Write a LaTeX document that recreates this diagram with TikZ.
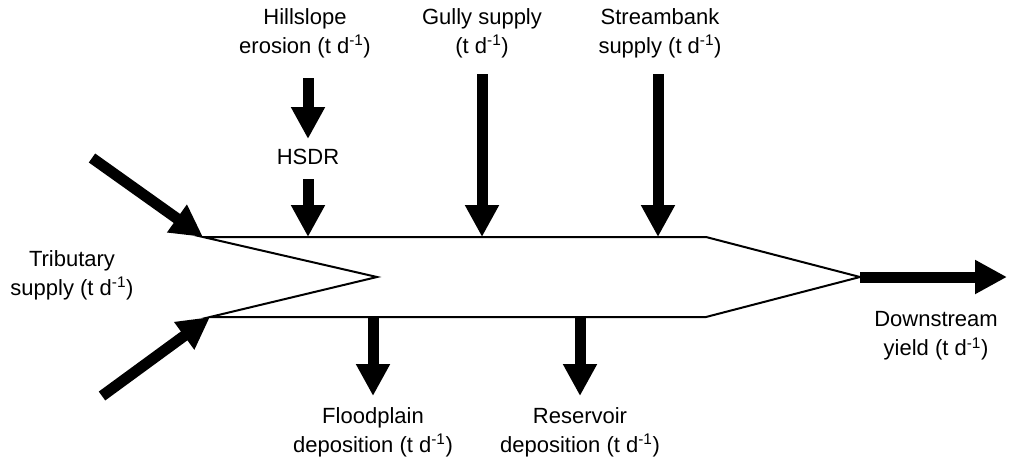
\documentclass[tikz,border=0pt]{standalone}
\usepackage{fontspec}
\setmainfont{Liberation Sans}
\usetikzlibrary{arrows.meta}
\tikzset{
  flux/.style={line width=11pt, -{Triangle[width=32pt,length=32pt]}},
  river/.style={line width=2pt, line join=miter},
  lbl/.style={align=center, inner sep=0pt, font=\fontsize{22}{29}\selectfont},
}
\newcommand{\tdunit}{(t d\textsuperscript{-1})}
\begin{document}
\begin{tikzpicture}[x=1pt,y=-1pt]
\useasboundingbox (0,0) rectangle (1009,469);
% river reach outline
\coordinate (tl) at (203,237);
\coordinate (tr) at (706,237);
\coordinate (tip) at (860,277);
\coordinate (br) at (706,317);
\coordinate (bl) at (210,317);
\coordinate (notch) at (377,277);
\draw[river] (tl) -- (tr) -- (tip) -- (br) -- (bl) -- (notch) -- cycle;

% labels
\node[lbl] (hill) at (305,33) {Hillslope\\erosion \tdunit};
\node[lbl] (hsdr) at (308,157) {HSDR};
\node[lbl] (gully) at (482,33) {Gully supply\\\tdunit};
\node[lbl] (bank) at (660,33) {Streambank\\supply \tdunit};
\node[lbl] (trib) at (72,275) {Tributary\\supply \tdunit};
\node[lbl] (down) at (936,336) {Downstream\\yield \tdunit};
\node[lbl] (flood) at (373,432) {Floodplain\\deposition \tdunit};
\node[lbl] (res) at (580,432) {Reservoir\\deposition \tdunit};

% attachment points along the reach
\coordinate (hin) at (308,237);
\coordinate (gin) at (482,237);
\coordinate (sin) at (658,237);
\coordinate (fout) at (373,317);
\coordinate (rout) at (580,317);
\coordinate (tribA) at (92,158);
\coordinate (tribB) at (102,396);
\coordinate (hA) at (308,78);
\coordinate (hB) at (308,139);
\coordinate (hC) at (308,179);
\coordinate (gA) at (482,74);
\coordinate (sA) at (658,74);
\coordinate (fB) at (373,396);
\coordinate (rB) at (580,396);
\coordinate (dB) at (1007,277);

% sediment fluxes
\draw[flux] (hA) -- (hB);
\draw[flux] (hC) -- (hin);
\draw[flux] (gA) -- (gin);
\draw[flux] (sA) -- (sin);
\draw[flux] (tribA) -- (tl);
\draw[flux] (tribB) -- (bl);
\draw[flux] (fout) -- (fB);
\draw[flux] (rout) -- (rB);
\draw[flux] (tip) -- (dB);
\end{tikzpicture}
\end{document}
